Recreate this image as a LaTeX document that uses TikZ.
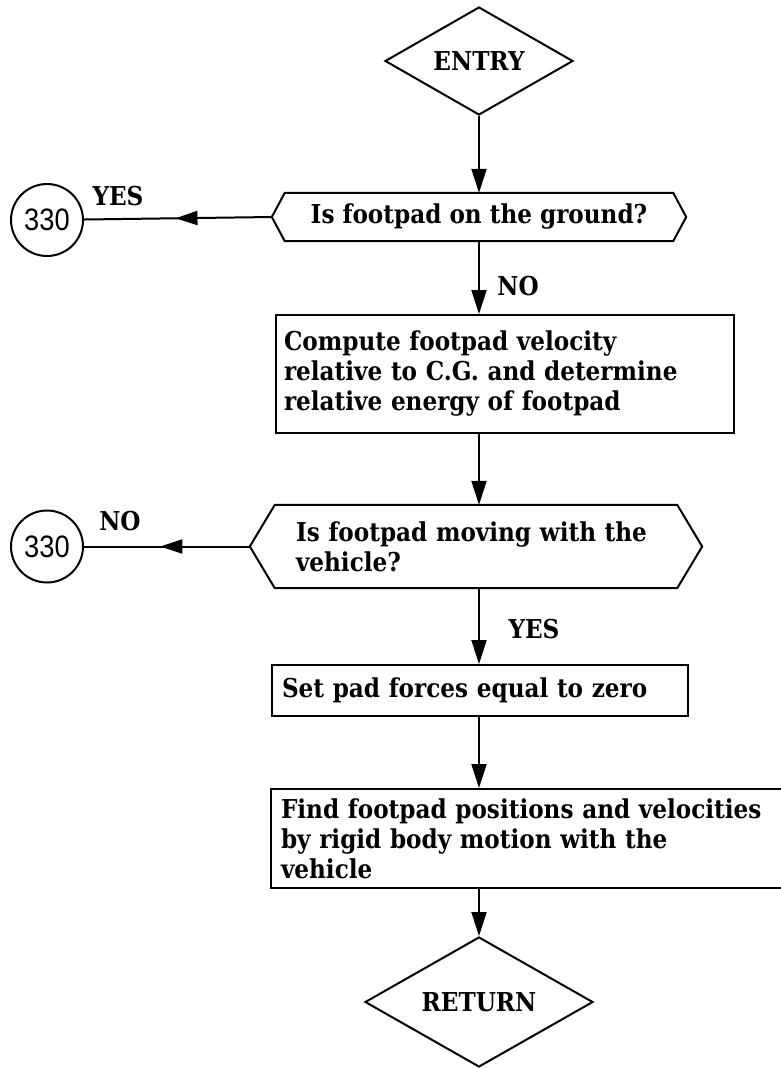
\documentclass[tikz,border=0pt]{standalone}
\usepackage{fontspec}
\usepackage{graphicx}
\setmainfont{DejaVu Serif}[FakeStretch=0.89]
\newfontfamily\circfont{Liberation Sans}
\usetikzlibrary{shapes.geometric,arrows.meta,decorations.markings,calc}

\begin{document}
\begin{tikzpicture}[x=1pt,y=-1pt,
  every node/.style={font=\fontsize{26}{30}\selectfont\bfseries},
  flow/.style={line width=2pt},
  arr/.style={flow,-{Triangle[length=24pt,width=15pt]}},
  midarr/.style={flow,postaction={decorate},
    decoration={markings,mark=at position #1 with {\arrow{Triangle[length=22pt,width=14pt]}}}},
  term/.style={diamond,draw,line width=2pt,aspect=1.7,inner sep=0pt},
  proc/.style={rectangle,draw,line width=2pt,align=left,inner xsep=10pt,inner ysep=0pt},
  conn/.style={circle,draw,line width=2pt,minimum size=72pt,inner sep=0pt,
    font=\circfont\fontsize{31}{31}\selectfont},
  lab/.style={inner sep=0pt}
]
\useasboundingbox (0,0) rectangle (781,1069);
\clip (0,0) rectangle (781,1069);

% entry point
\node[term,minimum width=188pt,minimum height=108pt] (entry) at (479,61) {ENTRY};

% first decision
\node[lab,minimum width=388pt,minimum height=48pt] (q1) at (479,217) {Is footpad on the ground?};
\draw[flow] (q1.north west) -- (q1.north east) -- ([xshift=13pt]q1.east)
  -- (q1.south east) -- (q1.south west) -- ([xshift=-13pt]q1.west) -- cycle;
\coordinate (q1w) at ([xshift=-13pt]q1.west);
\node[conn] (c1) at (47,220) {\scalebox{0.88}[1]{330}};
\node[lab] (yes1) at (118,196) {YES};
\draw[midarr=0.513] (q1w) -- (c1);
\draw[arr] (entry.south) -- (q1.north -| entry.south);

% relative velocity and energy
\node[proc,minimum width=458pt,minimum height=118pt,text width=442pt,inner xsep=8pt] (b1) at (505,374)
  {Compute footpad velocity\\relative to C.G. and determine\\relative energy of footpad};
\node[lab] (no1) at (518,286) {NO};
\draw[arr] (q1.south -| entry.south) -- (b1.north -| entry.south);

% second decision
\node[lab,minimum width=402pt,minimum height=83pt,text width=360pt,align=left] (q2) at (476,546.5)
  {Is footpad moving with the\\vehicle?};
\draw[flow] (q2.north west) -- (q2.north east) -- ([xshift=25pt]q2.east)
  -- (q2.south east) -- (q2.south west) -- ([xshift=-25pt]q2.west) -- cycle;
\coordinate (q2w) at ([xshift=-25pt]q2.west);
\node[conn] (c2) at (47,546.5) {\scalebox{0.88}[1]{330}};
\node[lab] (no2) at (120,521) {NO};
\draw[midarr=0.54] (q2w) -- (c2);
\draw[arr] (b1.south -| entry.south) -- (q2.north -| entry.south);

% zero pad forces
\node[proc,minimum width=416pt,minimum height=51pt,text width=396pt] (b2) at (480,690.5)
  {Set pad forces equal to zero};
\node[lab] (yes2) at (534,629) {YES};
\draw[arr] (q2.south -| entry.south) -- (b2.north -| entry.south);

% rigid body motion
\node[proc,minimum width=530pt,minimum height=99pt,text width=510pt] (b3) at (536,838.5)
  {Find footpad positions and velocities\\by rigid body motion with the\\vehicle};
\draw[arr] (b2.south -| entry.south) -- (b3.north -| entry.south);

% exit point
\node[term,minimum width=228pt,minimum height=130pt] (ret) at (479,1002) {RETURN};
\draw[arr] (b3.south -| entry.south) -- (ret.north);
\end{tikzpicture}
\end{document}
